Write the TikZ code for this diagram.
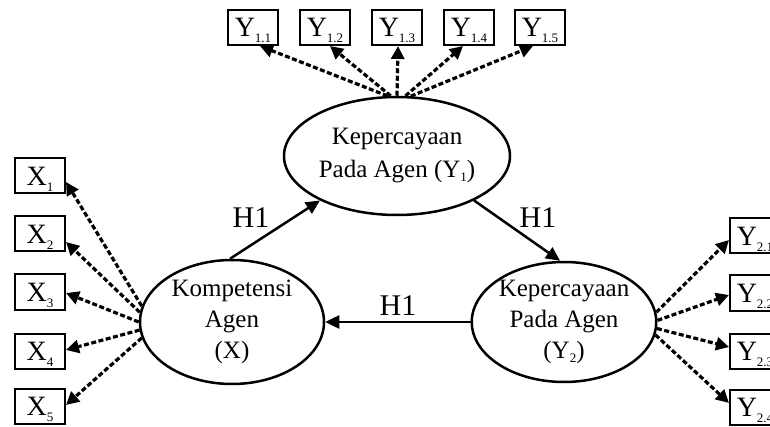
\documentclass[tikz,border=0pt]{standalone}
\usepackage{fontspec}
\setmainfont{Liberation Serif}
\usetikzlibrary{shapes.geometric,arrows.meta}
\newcommand{\bsub}[1]{\raisebox{-6pt}{\fontsize{13}{13}\selectfont #1}}
\newcommand{\esub}[1]{\raisebox{-4pt}{\fontsize{13}{13}\selectfont #1}}
\tikzset{
  box/.style={draw, line width=2pt, minimum width=50pt, minimum height=35pt, inner sep=0pt,
    text height=19pt, text depth=0pt, font=\fontsize{28}{28}\selectfont},
  lat/.style={ellipse, draw, line width=2.5pt, inner sep=0pt, align=center,
    font=\fontsize{25}{31}\selectfont},
  solidarrow/.style={line width=2.5pt, -{Triangle[length=14pt,width=13pt]}},
  dasharrow/.style={line width=3.2pt, dash pattern=on 5pt off 2.5pt, -{Triangle[length=13pt,width=13pt]}},
  hlab/.style={inner sep=0pt, font=\fontsize{30}{30}\selectfont}
}
\begin{document}
\begin{tikzpicture}[x=1pt,y=-1pt]
\useasboundingbox (0,0) rectangle (770,427);
\clip (0,0) rectangle (770,427);
% latent variables
\node[lat, minimum width=226pt, minimum height=118pt, font=\fontsize{25}{33}\selectfont] (Y1) at (397,156) {Kepercayaan\\Pada Agen (Y\esub{1})};
\node[lat, minimum width=184pt, minimum height=124pt] (X) at (232,322) {Kompetensi\\Agen\\(X)};
\node[lat, minimum width=182pt, minimum height=120pt] (Y2) at (564,322) {Kepercayaan\\Pada Agen\\(Y\esub{2})};
% indicators of Y1
\node[box] (Y11) at (253,27.5) {Y\bsub{1.1}};
\node[box] (Y12) at (325,27.5) {Y\bsub{1.2}};
\node[box] (Y13) at (397,27.5) {Y\bsub{1.3}};
\node[box] (Y14) at (469,27.5) {Y\bsub{1.4}};
\node[box] (Y15) at (540,27.5) {Y\bsub{1.5}};
% indicators of X
\node[box] (X1) at (40,176) {X\bsub{1}};
\node[box] (X2) at (40,234) {X\bsub{2}};
\node[box] (X3) at (40,292) {X\bsub{3}};
\node[box] (X4) at (40,351) {X\bsub{4}};
\node[box] (X5) at (40,406) {X\bsub{5}};
% indicators of Y2
\node[box] (Y21) at (755,236) {Y\bsub{2.1}};
\node[box] (Y22) at (755,293) {Y\bsub{2.2}};
\node[box] (Y23) at (755,351) {Y\bsub{2.3}};
\node[box] (Y24) at (755,407) {Y\bsub{2.4}};
% dashed loadings
\draw[dasharrow] (Y1.99.6) -- ([xshift=7pt]Y11.south);
\draw[dasharrow] (Y1.96.8) -- ([xshift=5pt]Y12.south);
\draw[dasharrow] (Y1.90) -- ([xshift=1pt]Y13.south);
\draw[dasharrow] (Y1.82.3) -- ([xshift=-6pt]Y14.south);
\draw[dasharrow] (Y1.77.6) -- ([xshift=-7pt]Y15.south);
\draw[dasharrow] (X.170) -- ([yshift=-6pt]X1.east);
\draw[dasharrow] (X.174) -- ([yshift=-8pt]X2.east);
\draw[dasharrow] (X.180) -- ([yshift=-1pt]X3.east);
\draw[dasharrow] (X.185) -- ([yshift=1pt]X4.east);
\draw[dasharrow] (X.190) -- ([yshift=1pt]X5.east);
\draw[dasharrow] (Y2.6.3) -- ([yshift=-4pt]Y21.west);
\draw[dasharrow] (Y2.1.9) -- ([yshift=-2pt]Y22.west);
\draw[dasharrow] (Y2.-4.4) -- ([yshift=4pt]Y23.west);
\draw[dasharrow] (Y2.-8.3) -- ([yshift=4pt]Y24.west);
% structural paths
\draw[solidarrow] ([xshift=-2pt]X.north) -- (Y1.210.4);
\draw[solidarrow] (Y1.-30) -- ([xshift=-4pt]Y2.north);
\draw[solidarrow] (Y2.west) -- (X.east);
\node[hlab] (h1) at (251,218) {H1};
\node[hlab] (h2) at (538,218) {H1};
\node[hlab] (h3) at (398,306) {H1};
\end{tikzpicture}
\end{document}
